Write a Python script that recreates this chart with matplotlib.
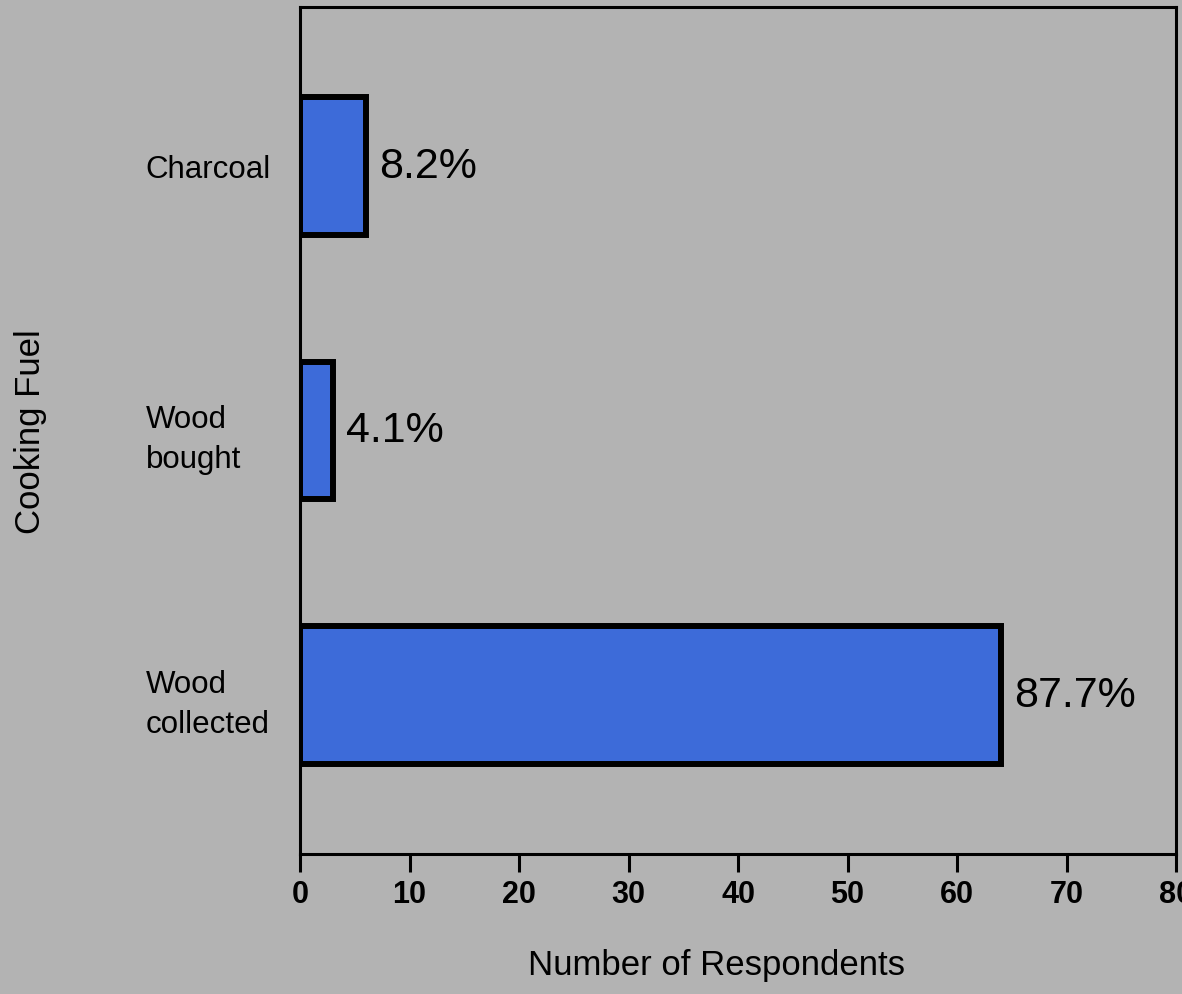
import matplotlib.pyplot as plt

fuels = ["Wood\ncollected", "Wood\nbought", "Charcoal"]
counts = [64, 3, 6]
xticks = [0, 10, 20, 30, 40, 50, 60, 70, 80]

total = sum(counts)
pct = [c / total * 100 for c in counts]

bg = "#b3b3b3"
bar_col = "#3d6bd9"

plt.rcParams['font.family'] = ['Liberation Sans', 'DejaVu Sans']

fig = plt.figure(figsize=(11.82, 9.95), dpi=100, facecolor=bg)
ax = fig.add_axes([300/1182, 1 - 855/995, 876/1182, 847/995], facecolor=bg)

ypos = list(range(len(fuels)))
ax.barh(ypos, counts, height=0.52, color=bar_col, edgecolor='black', linewidth=4.3)

for y, c, p in zip(ypos, counts, pct):
    ax.text(c + 1.2, y, "%.1f%%" % p, va='center', ha='left', fontsize=31, color='black')

ax.set_xlim(0, 80)
ax.set_ylim(-0.6, 2.6)
ax.set_xticks(xticks)
ax.set_xticklabels([str(t) for t in xticks], fontsize=22, fontweight='bold')
ax.set_yticks(ypos)
ax.set_yticklabels(fuels, fontsize=22.5, ha='left', linespacing=1.45)
ax.tick_params(axis='y', length=0, pad=111)
ax.tick_params(axis='x', length=13, width=2.2, pad=5)

for s in ax.spines.values():
    s.set_linewidth(2.2)

ax.set_xlabel("Number of Respondents", fontsize=25)
ax.xaxis.set_label_coords(0.475, -0.13)
ax.xaxis.label.set_va('center')
ax.set_ylabel("Cooking Fuel", fontsize=25)
ax.yaxis.set_label_coords(-0.308, 0.5)
ax.yaxis.label.set_va('center')

fig.savefig("out.png", dpi=100, facecolor=bg)
